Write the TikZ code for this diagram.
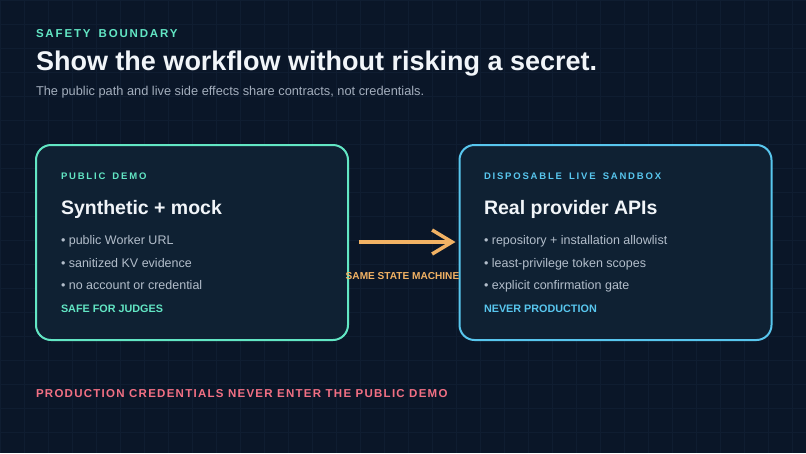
\documentclass[tikz,border=0pt]{standalone}
\usepackage{fontspec}
\setmainfont{Liberation Sans}
\newfontfamily\trk[LetterSpace=16,WordSpace=1.6]{Liberation Sans}
\newfontfamily\trkb[LetterSpace=19,WordSpace=1.6]{Liberation Sans}
\newfontfamily\trkc[LetterSpace=11]{Liberation Sans}
\usetikzlibrary{arrows.meta}
\definecolor{bg}{HTML}{0A1628}
\definecolor{gridc}{HTML}{0F1D31}
\definecolor{boxfill}{HTML}{0F2133}
\definecolor{teal}{HTML}{62E6C4}
\definecolor{sky}{HTML}{58C6EE}
\definecolor{amber}{HTML}{F2B264}
\definecolor{rose}{HTML}{F27084}
\definecolor{titlec}{HTML}{F1F5F9}
\definecolor{subc}{HTML}{A3AEBD}
\definecolor{bulc}{HTML}{B3BECB}
\newcommand{\fsz}[1]{\fontsize{#1}{#1}\selectfont}
\tikzset{
  txt/.style={anchor=base west, inner sep=0pt, outer sep=0pt},
  panel/.style={draw=#1, line width=2pt, fill=boxfill, rounded corners=15pt,
    minimum width=312pt, minimum height=195pt, anchor=north west, inner sep=0pt},
  kick/.style={txt, text=#1, font=\trkb\bfseries\fsz{9.5}},
  head/.style={txt, text=titlec, font=\bfseries\fsz{19.5}},
  bul/.style={txt, text=bulc, font=\fsz{12.5}},
  tag/.style={txt, text=#1, font=\bfseries\fsz{10.8}},
}
\begin{document}
\begin{tikzpicture}[x=1pt,y=-1pt]
\fill[bg] (0,0) rectangle (806,453);
\useasboundingbox (0,0) rectangle (806,453);
\foreach \i in {0,24,...,806} \draw[gridc, line width=0.7pt] (\i,0) -- (\i,453);
\foreach \j in {0,24,...,453} \draw[gridc, line width=0.7pt] (0,\j) -- (806,\j);

\node[txt, text=teal, font=\trk\bfseries\fsz{11.5}] (kicker) at (36,37.3) {SAFETY BOUNDARY};
\node[txt, text=titlec, font=\bfseries\fsz{27}] (title) at (36,70) {Show the workflow without risking a secret.};
\node[txt, text=subc, font=\fsz{12.8}] (sub) at (36,95.7) {The public path and live side effects share contracts, not credentials.};

\node[panel=teal] (left) at (35,144) {};
\node[panel=sky] (right) at (458.5,144) {};

\node[kick=teal] (lk) at (61,179) {PUBLIC DEMO};
\node[head] (lh) at (61,214) {Synthetic + mock};
\node[bul] (l1) at (61,244.5) {\textbullet\ public Worker URL};
\node[bul] (l2) at (61,267.2) {\textbullet\ sanitized KV evidence};
\node[bul] (l3) at (61,289.8) {\textbullet\ no account or credential};
\node[tag=teal] (lt) at (61,312) {SAFE FOR JUDGES};

\node[kick=sky] (rk) at (484,179) {DISPOSABLE LIVE SANDBOX};
\node[head] (rh) at (484,214) {Real provider APIs};
\node[bul] (r1) at (484,244.5) {\textbullet\ repository + installation allowlist};
\node[bul] (r2) at (484,267.2) {\textbullet\ least-privilege token scopes};
\node[bul] (r3) at (484,289.8) {\textbullet\ explicit confirmation gate};
\node[tag=sky] (rt) at (484,312) {NEVER PRODUCTION};

\draw[amber, line width=3.5pt, -{Straight Barb[length=20pt, width=24pt]}]
  ([xshift=10pt, yshift=0.5pt]left.east) -- ([xshift=-3pt, yshift=0.5pt]right.west);
\node[anchor=base, inner sep=0pt, text=amber, font=\bfseries\fsz{10.1}] (same) at (402.5,279.5) {SAME STATE MACHINE};

\node[txt, text=rose, font=\trkc\bfseries\fsz{11.5}] (foot) at (36,397.5) {PRODUCTION CREDENTIALS NEVER ENTER THE PUBLIC DEMO};
\end{tikzpicture}
\end{document}
